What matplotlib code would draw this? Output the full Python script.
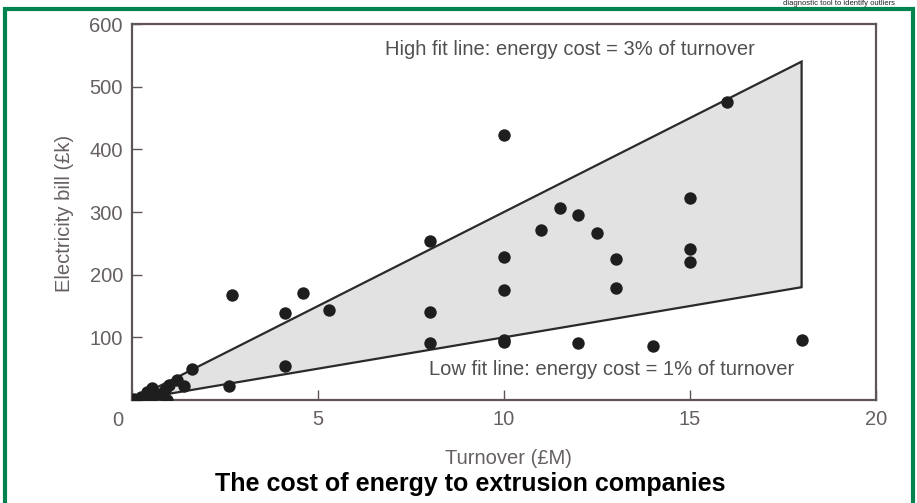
import matplotlib
matplotlib.use("Agg")
import matplotlib.pyplot as plt
from matplotlib.patches import Rectangle, Polygon

# ---- data ----
turnover = [0.05, 0.25, 0.4, 0.55, 0.55, 0.75, 0.9, 0.95, 1.0, 1.2, 1.4,
            1.6, 2.6, 2.7, 4.1, 4.1, 4.6, 5.3,
            8.0, 8.0, 8.0, 10.0, 10.0, 10.0, 10.0, 10.0,
            11.0, 11.5, 12.0, 12.0, 12.5, 13.0, 13.0, 14.0,
            15.0, 15.0, 15.0, 16.0, 18.0]
bill = [2, 5, 12, 19, 5, 10, 16, 0, 24, 32, 22,
        49, 22, 167, 139, 54, 171, 144,
        254, 140, 91, 423, 228, 175, 96, 93,
        271, 306, 295, 91, 266, 225, 179, 86,
        322, 241, 220, 475, 96]
band_x = [0, 18, 18]
band_y = [0, 540, 180]
xticks = [0, 5, 10, 15, 20]
xticklabels = ["", "5", "10", "15", "20"]
yticks = [0, 100, 200, 300, 400, 500, 600]
yticklabels = ["", "100", "200", "300", "400", "500", "600"]

W, H = 917, 503
plt.rcParams["font.family"] = ["Liberation Sans", "DejaVu Sans"]
fig = plt.figure(figsize=(W / 100, H / 100), dpi=100)
fig.patch.set_facecolor("white")

# green frame
fig.add_artist(Rectangle((4.5 / W, -0.05), 908 / W, 1 - 8.5 / H + 0.05,
                         transform=fig.transFigure, fill=False,
                         edgecolor="#00834f", linewidth=3, zorder=0))
# header text (mostly cut off in the reference)
fig.text(895 / W, 1.0, "diagnostic tool to identify outliers", ha="right", va="top",
         fontsize=5.5, color="#222222")

ax = fig.add_axes([132 / W, 1 - 400 / H, (876 - 132) / W, (400 - 24) / H])
ax.set_xlim(0, 20)
ax.set_ylim(0, 600)

lab_col = "#666060"
fs = 14.5
ax.add_patch(Polygon(list(zip(band_x, band_y)), closed=True, facecolor="#e2e2e2",
                     edgecolor="#2a2a2a", linewidth=1.6, zorder=1))
ax.scatter(turnover, bill, s=80, color="#1e1e1e", zorder=3, linewidths=0)

for s in ax.spines.values():
    s.set_color("#5f5555")
    s.set_linewidth(1.6)

ax.set_xticks(xticks)
ax.set_xticklabels(xticklabels)
ax.set_yticks(yticks)
ax.set_yticklabels(yticklabels)
ax.tick_params(direction="in", length=7, width=1, color="#5f5555",
               labelsize=fs, labelcolor=lab_col)
ax.tick_params(axis="y", pad=6.5)
ax.tick_params(axis="x", pad=7.5)

fig.text(118 / W, 1 - 420 / H, "0", ha="center", va="center", fontsize=fs, color=lab_col)
fig.text(508 / W, 1 - 458 / H, "Turnover (£M)", ha="center", va="center",
         fontsize=fs, color=lab_col)
fig.text(64 / W, 1 - 213 / H, "Electricity bill (£k)", ha="center", va="center",
         rotation=90, fontsize=fs, color=lab_col)

ax.text(6.8, 560, "High fit line: energy cost = 3% of turnover", fontsize=fs,
        color="#505050", va="center", ha="left")
ax.text(7.98, 48, "Low fit line: energy cost = 1% of turnover", fontsize=fs,
        color="#505050", va="center", ha="left")

fig.text(470 / W, 1 - 484 / H, "The cost of energy to extrusion companies",
         ha="center", va="center", fontsize=18, fontweight="bold", color="black")

fig.savefig("out.png", dpi=100)
